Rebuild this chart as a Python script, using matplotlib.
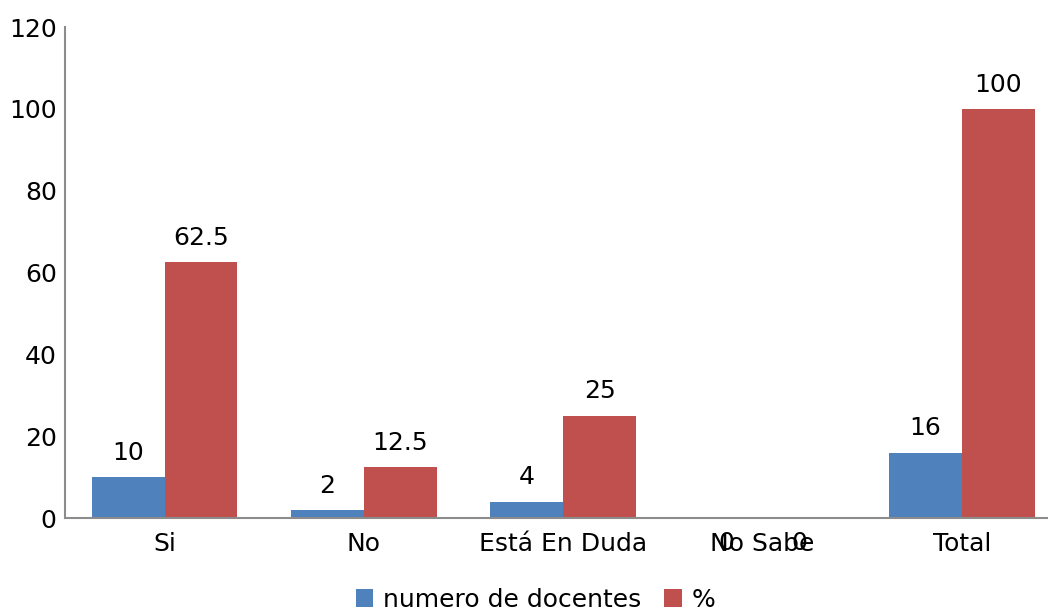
import matplotlib

matplotlib.use("Agg")
import matplotlib.pyplot as plt
import numpy as np

categories = ["Si", "No", "Está En Duda", "No Sabe", "Total"]
docentes = [10, 2, 4, 0, 16]
porcentaje = [62.5, 12.5, 25, 0, 100]
series_names = ["numero de docentes", "%"]

BLUE = "#4F81BD"
RED = "#C0504D"
GRAY = "#8C8C8C"

plt.rcParams["font.family"] = "DejaVu Sans"

fig = plt.figure(figsize=(10.48, 6.10), dpi=100)
ax = fig.add_axes([0.062, 0.1508, 0.937, 0.8049])

x = np.arange(len(categories))
w = 0.365
b1 = ax.bar(x - w / 2, docentes, width=w, color=BLUE, label=series_names[0])
b2 = ax.bar(x + w / 2, porcentaje, width=w, color=RED, label=series_names[1])

for bars, vals in ((b1, docentes), (b2, porcentaje)):
    for rect, v in zip(bars, vals):
        txt = f"{v:g}"
        dy = 17.5 if v > 0 else -18
        ax.annotate(txt, (rect.get_x() + rect.get_width() / 2, v),
                    xytext=(0, dy), textcoords="offset points",
                    ha="center", va="center", fontsize=18)

ax.set_ylim(0, 120)
ax.set_xlim(-0.5, 4.427)
ax.set_yticks(range(0, 121, 20))
ax.set_xticks(x)
ax.set_xticklabels(categories)
ax.tick_params(axis="both", length=0, labelsize=18)
ax.tick_params(axis="x", pad=10)
ax.tick_params(axis="y", pad=6)

for s in ("top", "right"):
    ax.spines[s].set_visible(False)
for s in ("left", "bottom"):
    ax.spines[s].set_color(GRAY)
    ax.spines[s].set_linewidth(1.5)

fig.legend(loc="lower center", bbox_to_anchor=(0.511, -0.04), ncol=2,
           frameon=False, fontsize=18, handlelength=0.7, handleheight=0.7,
           handletextpad=0.4, columnspacing=0.9)

fig.savefig("out.png", dpi=100)
